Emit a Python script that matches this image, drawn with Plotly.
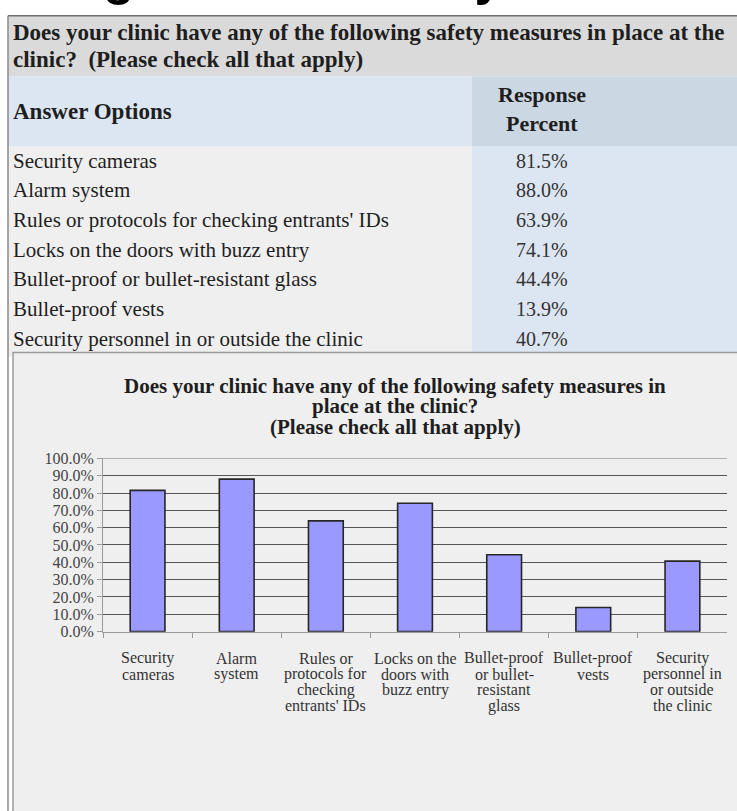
import plotly.graph_objects as go

# ---------------- data ----------------
question_lines = ["Does your clinic have any of the following safety measures in place at the",
                  "clinic?  (Please check all that apply)"]
col_header_left = "Answer Options"
col_header_right = ["Response", "Percent"]
answer_options = ["Security cameras",
                  "Alarm system",
                  "Rules or protocols for checking entrants' IDs",
                  "Locks on the doors with buzz entry",
                  "Bullet-proof or bullet-resistant glass",
                  "Bullet-proof vests",
                  "Security personnel in or outside the clinic"]
response_percent = [81.5, 88.0, 63.9, 74.1, 44.4, 13.9, 40.7]
bar_labels = ["Security<br>cameras",
              "Alarm<br>system",
              "Rules or<br>protocols for<br>checking<br>entrants' IDs",
              "Locks on the<br>doors with<br>buzz entry",
              "Bullet-proof<br>or bullet-<br>resistant<br>glass",
              "Bullet-proof<br>vests",
              "Security<br>personnel in<br>or outside<br>the clinic"]
chart_title_lines = ["Does your clinic have any of the following safety measures in",
                     "place at the clinic?",
                     "(Please check all that apply)"]
page_heading = "Existing Clinic Security Measures"
y_ticks = [0, 10, 20, 30, 40, 50, 60, 70, 80, 90, 100]

# ---------------- geometry helpers ----------------
W, H = 737, 811
def X(px):
    return px / W
def Y(py):
    return 1 - py / H

SERIF = "Liberation Serif, Times New Roman, serif"
fig = go.Figure()

fig.add_trace(go.Bar(
    x=answer_options, y=response_percent,
    marker=dict(color="#9999ff", line=dict(color="#262626", width=1.6)),
    width=0.39, hoverinfo="skip"))

shapes = []
def rect(x0, y0, x1, y1, fill, line=None, lw=0):
    shapes.append(dict(type="rect", xref="paper", yref="paper",
                       x0=X(x0), x1=X(x1), y0=Y(y1), y1=Y(y0),
                       fillcolor=fill, layer="below",
                       line=dict(color=line or fill, width=lw)))
def line(x0, y0, x1, y1, color, w):
    shapes.append(dict(type="line", xref="paper", yref="paper",
                       x0=X(x0), x1=X(x1), y0=Y(y0), y1=Y(y1),
                       layer="below", line=dict(color=color, width=w)))

col_split = 472
rect(8, 8, 760, 70, "#dadada")
rect(8, 70, col_split, 141, "#dce6f2")
rect(col_split, 70, 760, 141, "#ccd7e4")
rect(8, 141, col_split, 356, "#efefef")
rect(col_split, 141, 760, 356, "#dce6f2")
line(8, 8, 760, 8, "#6e6e6e", 1.5)
line(8, 8, 8, 820, "#8a8a8a", 1.5)
rect(13, 352, 760, 830, "#efefef", "#9a9a9a", 1.5)

PLOT_L, PLOT_R, PLOT_T, PLOT_B = 103, 727, 460, 637
# top border line of the plot area (100% level)
shapes.append(dict(type="line", xref="paper", yref="y", x0=X(PLOT_L), x1=X(PLOT_R),
                   y0=y_ticks[-1], y1=y_ticks[-1], layer="below",
                   line=dict(color="#8c8c8c", width=1)))

ann = []
def text(x, y, s, size, bold=False, anchor="left", color="#1e1e1e", family=SERIF, xref="paper"):
    ann.append(dict(xref=xref, yref="paper", x=X(x) if xref == "paper" else x, y=Y(y),
                    text=("<b>%s</b>" % s) if bold else s,
                    showarrow=False, xanchor=anchor, yanchor="middle",
                    font=dict(family=family, size=size, color=color)))

# partially visible page heading at the very top (only descenders show)
ann.append(dict(xref="paper", yref="paper", x=X(-66), y=Y(-1), text="<b>%s</b>" % page_heading,
                showarrow=False, xanchor="left", yanchor="bottom",
                font=dict(family="Liberation Sans, Arial, sans-serif", size=51, color="#000000")))

for s, yy in zip(question_lines, [25, 53]):
    text(11, yy, s, 23, bold=True)
text(11, 106, col_header_left, 23, bold=True)
for s, yy in zip(col_header_right, [88, 118]):
    text(542, yy, s, 22, bold=True, anchor="center")
for i, (opt, pct) in enumerate(zip(answer_options, response_percent)):
    yy = 156 + 30.3 * i
    text(11, yy, opt, 21)
    text(542, yy, "%.1f%%" % pct, 20, anchor="center", color="#333333")

for i, s in enumerate(chart_title_lines):
    text(395, 386 + 21 * i, s, 21, bold=True, anchor="center")

# category labels below the axis, one line at a time
for cat, lab in zip(answer_options, bar_labels):
    for j, part in enumerate(lab.split("<br>")):
        text(cat, 664 + 16.3 * j, part, 16, anchor="center", color="#333333", xref="x")

fig.update_layout(
    width=W, height=H, autosize=False,
    margin=dict(l=0, r=0, t=0, b=0),
    paper_bgcolor="#ffffff", plot_bgcolor="rgba(0,0,0,0)",
    showlegend=False,
    shapes=shapes, annotations=ann,
    xaxis=dict(domain=[X(PLOT_L), X(PLOT_R)], showgrid=False, showline=True, linecolor="#9a9a9a",
               linewidth=1, ticks="outside", tickson="boundaries", ticklen=5, tickcolor="#9a9a9a",
               showticklabels=False, fixedrange=True),
    yaxis=dict(domain=[Y(PLOT_B), Y(PLOT_T)], range=[0, 100], tickvals=y_ticks,
               ticktext=["%.1f%%" % v for v in y_ticks],
               showgrid=True, gridcolor="#555555", gridwidth=1,
               showline=True, linecolor="#9a9a9a", linewidth=1, zeroline=False,
               ticks="outside", ticklen=5, tickcolor="#9a9a9a",
               tickfont=dict(family=SERIF, size=16, color="#444444"), fixedrange=True),
)

fig.write_html("out.html")
